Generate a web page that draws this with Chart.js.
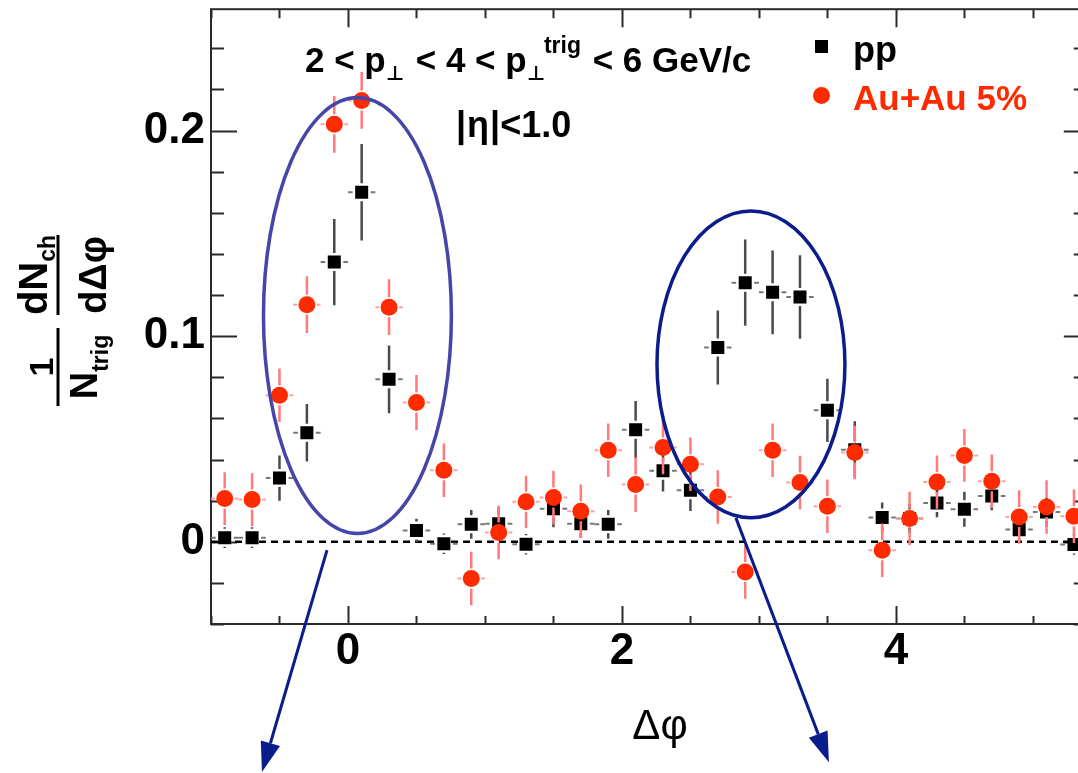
<!DOCTYPE html>
<html>
<head>
<meta charset="utf-8">
<script src="https://cdn.jsdelivr.net/npm/chart.js@4.4.1/dist/chart.umd.min.js"></script>
<style>
  html, body { margin: 0; padding: 0; background: #fff; overflow: hidden; }
  #view { width: 1078px; height: 773px; overflow: hidden; position: relative; }
  #wrap { width: 1090px; height: 773px; position: absolute; left: 0; top: 0; }
</style>
</head>
<body>
<div id="view"><div id="wrap"><canvas id="c" width="1090" height="773"></canvas></div></div>
<script>
// Δφ bin centres (bin width 0.2)
const dphi = [-0.9, -0.7, -0.5, -0.3, -0.1, 0.1, 0.3, 0.5, 0.7, 0.9, 1.1, 1.3, 1.5, 1.7, 1.9, 2.1,
              2.3, 2.5, 2.7, 2.9, 3.1, 3.3, 3.5, 3.7, 3.9, 4.1, 4.3, 4.5, 4.7, 4.9, 5.1, 5.3];

// pp per-trigger yield and statistical errors
const ppYield = [0.002, 0.002, 0.031, 0.053, 0.136, 0.170, 0.079, 0.0055, -0.001, 0.0085, 0.0088, -0.0012,
                 0.0160, 0.0088, 0.0085, 0.0545, 0.0345, 0.025, 0.0945, 0.126, 0.1213, 0.119, 0.0639, 0.0448,
                 0.0118, 0.0113, 0.0189, 0.0158, 0.0223, 0.0059, 0.0145, -0.0013];
const ppErr = [0.005, 0.005, 0.011, 0.014, 0.021, 0.0235, 0.0165, 0.0057, 0.005, 0.007, 0.008, 0.005,
               0.009, 0.007, 0.007, 0.014, 0.010, 0.010, 0.018, 0.021, 0.0204, 0.0203, 0.0154, 0.0138,
               0.0073, 0.007, 0.007, 0.0085, 0.007, 0.006, 0.007, 0.005];

// central Au+Au (0-5%) per-trigger yield and statistical errors
const auauYield = [0.021, 0.0205, 0.0712, 0.1153, 0.203, 0.2146, 0.1141, 0.0677, 0.0348, -0.0179, 0.0045, 0.0194,
                   0.0215, 0.0148, 0.0445, 0.0278, 0.0458, 0.0377, 0.0218, -0.0147, 0.0445, 0.0288, 0.0173, 0.0434,
                   -0.0041, 0.0113, 0.029, 0.042, 0.0294, 0.012, 0.0169, 0.0124];
const auauErr = [0.0128, 0.0128, 0.013, 0.0138, 0.0138, 0.0138, 0.0136, 0.0134, 0.013, 0.013, 0.013, 0.0127,
                 0.013, 0.013, 0.013, 0.0133, 0.013, 0.013, 0.013, 0.013, 0.013, 0.013, 0.013, 0.013,
                 0.013, 0.013, 0.013, 0.0128, 0.013, 0.013, 0.013, 0.013];

const binHalfWidth = 0.1;

// labelled (major) ticks
const xMajorTicks = [0, 2, 4];
const xTickLabels = ['0', '2', '4'];
const yMajorTicks = [0, 0.1, 0.2];
const yTickLabels = ['0', '0.1', '0.2'];

const FONT = '"Liberation Sans", Arial, "DejaVu Sans", sans-serif';
const RED = '#ff2a00';

function majorIndex(list, v) {
  for (let i = 0; i < list.length; i++) if (Math.abs(list[i] - v) < 1e-6) return i;
  return -1;
}

// highlighted regions (data coordinates): near-side and away-side peaks
const nearRing = { x: 0.069, y: 0.110, rx: 0.686, ry: 0.106, color: '#4646a8' };
const awayRing = { x: 2.942, y: 0.0863, rx: 0.686, ry: 0.0746, color: '#0b1c8c' };
const pointers = [
  { from: [-0.153, -0.0041], to: [-0.628, -0.112] },
  { from: [2.832, 0.0116], to: [3.511, -0.1072] }
];

// frame, inward ticks on all four sides, dashed zero line
const frameTicks = {
  id: 'frameTicks',
  beforeDatasetsDraw(chart) {
    const { ctx, chartArea: a, scales: { x, y } } = chart;
    ctx.save();
    ctx.strokeStyle = '#2a2a2a';
    ctx.lineWidth = 2;
    ctx.strokeRect(a.left, a.top, a.right - a.left, a.bottom - a.top);
    ctx.beginPath();
    x.ticks.forEach(t => {
      const px = Math.round(x.getPixelForValue(t.value)) + 0.5;
      const major = majorIndex(xMajorTicks, t.value) >= 0;
      ctx.moveTo(px, a.bottom); ctx.lineTo(px, a.bottom - (major ? 18 : 8));
      ctx.moveTo(px, a.top); ctx.lineTo(px, a.top + (major ? 18 : 9));
    });
    y.ticks.forEach(t => {
      const py = Math.round(y.getPixelForValue(t.value)) + 0.5;
      const major = majorIndex(yMajorTicks, t.value) >= 0;
      ctx.moveTo(a.left, py); ctx.lineTo(a.left + (major ? 26 : 13), py);
      ctx.moveTo(a.right, py); ctx.lineTo(a.right - (major ? 17 : 7), py);
    });
    ctx.stroke();
    const y0 = y.getPixelForValue(0);
    ctx.setLineDash([7, 5]);
    ctx.lineWidth = 2.5;
    ctx.strokeStyle = '#000';
    ctx.beginPath(); ctx.moveTo(a.left, y0); ctx.lineTo(a.right, y0); ctx.stroke();
    ctx.restore();
  }
};

// error bars, drawn just before each dataset's markers
const errorBars = {
  id: 'errorBars',
  beforeDatasetDraw(chart, args) {
    const ds = chart.data.datasets[args.index];
    if (!ds.errors) return;
    const { ctx, chartArea: a, scales: { x, y } } = chart;
    ctx.save();
    ctx.beginPath(); ctx.rect(a.left, a.top, a.right - a.left, a.bottom - a.top); ctx.clip();
    const gap = ds.barGap;
    ds.data.forEach((p, i) => {
      const e = ds.errors[i];
      const px = x.getPixelForValue(p.x);
      const py = y.getPixelForValue(p.y);
      const yTop = y.getPixelForValue(p.y + e);
      const yBot = y.getPixelForValue(p.y - e);
      ctx.strokeStyle = ds.errorColor;
      ctx.lineWidth = 2.5;
      ctx.beginPath();
      if (py - gap > yTop) { ctx.moveTo(px, yTop); ctx.lineTo(px, py - gap); }
      if (py + gap < yBot) { ctx.moveTo(px, py + gap); ctx.lineTo(px, yBot); }
      ctx.stroke();
      const xl = x.getPixelForValue(p.x - binHalfWidth);
      const xr = x.getPixelForValue(p.x + binHalfWidth);
      ctx.strokeStyle = ds.xErrorColor;
      ctx.lineWidth = 2;
      ctx.beginPath();
      ctx.moveTo(xl, py); ctx.lineTo(px - gap, py);
      ctx.moveTo(px + gap, py); ctx.lineTo(xr, py);
      ctx.stroke();
    });
    ctx.restore();
  }
};

function drawRich(ctx, x, y, parts, color) {
  ctx.fillStyle = color || '#000';
  ctx.textBaseline = 'alphabetic';
  ctx.textAlign = 'left';
  parts.forEach(p => {
    ctx.font = (p.weight || 'bold') + ' ' + p.size + 'px ' + FONT;
    ctx.fillText(p.t, x, y + (p.dy || 0));
    x += ctx.measureText(p.t).width + (p.dx || 0);
  });
}
function richWidth(ctx, parts) {
  let w = 0;
  parts.forEach(p => {
    ctx.font = (p.weight || 'bold') + ' ' + p.size + 'px ' + FONT;
    w += ctx.measureText(p.t).width + (p.dx || 0);
  });
  return w;
}

// text, legend, axis titles and highlight rings
const overlay = {
  id: 'overlay',
  afterDraw(chart) {
    const { ctx, scales: { x, y } } = chart;
    ctx.save();

    // kinematic selection
    drawRich(ctx, 305, 72, [
      { t: '2 < p', size: 35 },
      { t: '\u22A5', size: 20, dy: 8, dx: 2 },
      { t: ' < 4 < p', size: 35 },
      { t: '\u22A5', size: 20, dy: 8, dx: -1 },
      { t: 'trig', size: 23, dy: -19, dx: 2 },
      { t: ' < 6 GeV/c', size: 35 }
    ]);
    drawRich(ctx, 456, 137, [
      { t: '|', size: 36, dx: 1 },
      { t: '\u03B7', size: 36, dx: 1 },
      { t: '|<1.0', size: 36 }
    ]);

    // legend
    ctx.fillStyle = '#000';
    ctx.fillRect(815, 40, 13, 13);
    drawRich(ctx, 853, 62, [{ t: 'pp', size: 36 }]);
    ctx.fillStyle = RED;
    ctx.beginPath(); ctx.arc(821.5, 95.5, 8.5, 0, Math.PI * 2); ctx.fill();
    drawRich(ctx, 853, 110, [{ t: 'Au+Au 5%', size: 35 }], RED);

    // x title
    ctx.fillStyle = '#000';
    ctx.font = 'normal 42px ' + FONT;
    ctx.textAlign = 'center';
    ctx.textBaseline = 'middle';
    ctx.fillText('\u0394\u03C6', 660, 727);

    // y title: (1/N_trig) (dN_ch / dΔφ), rotated
    const frac = (cy, num, den, barLen) => {
      ctx.save();
      ctx.translate(58, cy);
      ctx.rotate(-Math.PI / 2);
      ctx.fillStyle = '#000';
      ctx.fillRect(-barLen / 2, -1.5, barLen, 3);
      drawRich(ctx, -richWidth(ctx, num) / 2, 0, num);
      drawRich(ctx, -richWidth(ctx, den) / 2, 0, den);
      ctx.restore();
    };
    frac(275,
      [{ t: 'dN', size: 40, dy: -11 }, { t: 'ch', size: 23, dy: -3 }],
      [{ t: 'd\u0394\u03C6', size: 38, dy: 48 }], 80);
    frac(367,
      [{ t: '1', size: 34, dy: -5 }],
      [{ t: 'N', size: 38, dy: 39 }, { t: 'trig', size: 23, dy: 50 }], 78);

    // highlight rings
    const ring = r => {
      const cx = x.getPixelForValue(r.x), cy = y.getPixelForValue(r.y);
      const rx = x.getPixelForValue(r.x + r.rx) - cx;
      const ry = cy - y.getPixelForValue(r.y + r.ry);
      ctx.strokeStyle = r.color;
      ctx.lineWidth = 3.5;
      ctx.beginPath(); ctx.ellipse(cx, cy, rx, ry, 0, 0, Math.PI * 2); ctx.stroke();
    };
    ring(nearRing);
    ring(awayRing);

    // pointers
    pointers.forEach(p => {
      const x0 = x.getPixelForValue(p.from[0]), y0 = y.getPixelForValue(p.from[1]);
      const x1 = x.getPixelForValue(p.to[0]), y1 = y.getPixelForValue(p.to[1]);
      const ang = Math.atan2(y1 - y0, x1 - x0);
      const L = 30, W = 10;
      const bx = x1 - L * Math.cos(ang), by = y1 - L * Math.sin(ang);
      ctx.strokeStyle = awayRing.color;
      ctx.fillStyle = awayRing.color;
      ctx.lineWidth = 3;
      ctx.beginPath(); ctx.moveTo(x0, y0); ctx.lineTo(bx, by); ctx.stroke();
      ctx.beginPath();
      ctx.moveTo(x1, y1);
      ctx.lineTo(bx + W * Math.sin(ang), by - W * Math.cos(ang));
      ctx.lineTo(bx - W * Math.sin(ang), by + W * Math.cos(ang));
      ctx.closePath(); ctx.fill();
    });
    ctx.restore();
  }
};

const toPoints = ys => dphi.map((v, i) => ({ x: v, y: ys[i] }));

// fixed axis boxes so the plotting frame sits where the layout needs it
function fixBox(s, size) {
  if (s.isHorizontal()) s.height = size; else s.width = size;
  s.paddingTop = 0; s.paddingBottom = 0; s.paddingLeft = 0; s.paddingRight = 0;
}

new Chart(document.getElementById('c'), {
  type: 'scatter',
  data: {
    datasets: [
      {
        label: 'pp',
        data: toPoints(ppYield),
        errors: ppErr,
        errorColor: '#4a4a4a',
        xErrorColor: '#777',
        barGap: 9,
        pointStyle: 'rect',
        pointRadius: 9.2,
        pointBorderWidth: 0,
        backgroundColor: '#000',
        borderColor: '#000',
        order: 2
      },
      {
        label: 'Au+Au 5%',
        data: toPoints(auauYield),
        errors: auauErr,
        errorColor: '#ff7a7a',
        xErrorColor: '#ffa0a0',
        barGap: 10,
        pointStyle: 'circle',
        pointRadius: 8.5,
        pointBorderWidth: 0,
        backgroundColor: RED,
        borderColor: RED,
        order: 1
      }
    ]
  },
  options: {
    responsive: false,
    animation: false,
    devicePixelRatio: 1,
    events: [],
    layout: { padding: { top: 9, right: 3, left: 0, bottom: 0 } },
    plugins: { legend: { display: false }, tooltip: { enabled: false } },
    scales: {
      x: {
        type: 'linear',
        min: -1,
        max: 5.35,
        afterFit(s) { fixBox(s, 149); },
        grid: { display: false, drawTicks: false },
        border: { display: false },
        ticks: {
          stepSize: 0.5,
          includeBounds: false,
          autoSkip: false,
          maxRotation: 0,
          padding: 1,
          color: '#000',
          font: { family: FONT, size: 44, weight: 'bold' },
          callback(v) { const i = majorIndex(xMajorTicks, v); return i >= 0 ? xTickLabels[i] : ''; }
        }
      },
      y: {
        type: 'linear',
        min: -0.04,
        max: 0.259,
        afterFit(s) { fixBox(s, 211); },
        grid: { display: false, drawTicks: false },
        border: { display: false },
        ticks: {
          stepSize: 0.02,
          includeBounds: false,
          autoSkip: false,
          padding: 6,
          color: '#000',
          font: { family: FONT, size: 44, weight: 'bold' },
          callback(v) { const i = majorIndex(yMajorTicks, v); return i >= 0 ? yTickLabels[i] : ''; }
        }
      }
    }
  },
  plugins: [frameTicks, errorBars, overlay]
});
</script>
</body>
</html>
